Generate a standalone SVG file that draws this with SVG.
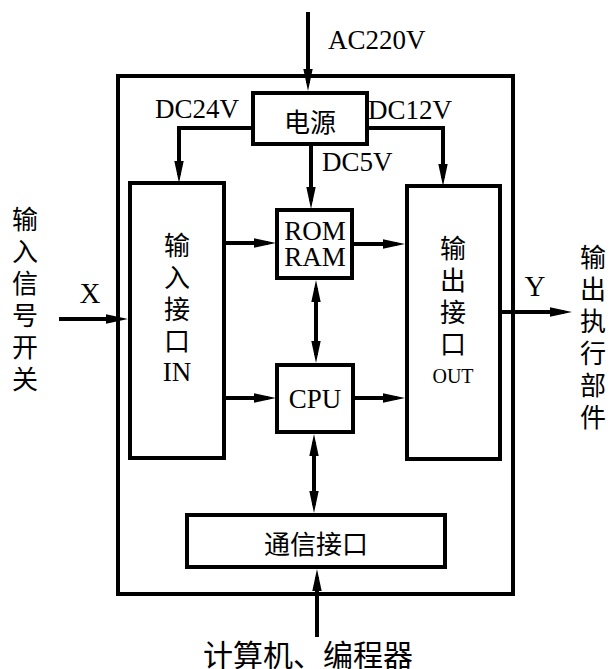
<svg xmlns="http://www.w3.org/2000/svg" width="610" height="669" viewBox="0 0 610 669">
<style>
.box{fill:#fff;stroke:#000;stroke-width:4}
.frame{fill:none;stroke:#000;stroke-width:4}
.wire{fill:none;stroke:#000;stroke-width:4;stroke-linejoin:miter}
.lat{font-family:'Liberation Serif','DejaVu Serif','Noto Serif',serif;font-size:27px;fill:#000}
.cjk{font-family:'Noto Sans CJK SC','Noto Sans',sans-serif;font-size:26px;fill:#000;text-anchor:middle;dominant-baseline:central}
.vcol{font-family:'Noto Sans CJK SC','Noto Sans',sans-serif;font-size:26px;fill:#000;writing-mode:vertical-rl;text-orientation:upright;letter-spacing:6px}
.mid{text-anchor:middle}
</style>
<defs>
<marker id="ah" markerUnits="userSpaceOnUse" markerWidth="24" markerHeight="12" refX="14" refY="5" orient="auto-start-reverse" viewBox="0 0 24 10">
<path d="M0,0.3 L22,5 L0,9.7 Z" fill="#000"/>
</marker>
</defs>
<g id="frame"><rect class="frame" x="118" y="76" width="395" height="518"/></g>
<g id="power"><rect class="box" x="253" y="93" width="114" height="51"/><text class="cjk" x="310" y="120">电源</text></g>
<g id="input"><rect class="box" x="130" y="183" width="94" height="275"/>
<text class="vcol" x="177" y="232">输入接口</text>
<text class="lat mid" x="177" y="381">IN</text></g>
<g id="rom"><rect class="box" x="277" y="210" width="75" height="68"/><text class="lat mid"><tspan x="315" y="240">ROM</tspan><tspan x="315" y="266">RAM</tspan></text></g>
<g id="cpu"><rect class="box" x="277" y="365" width="76" height="67"/><text class="lat mid" x="315" y="408">CPU</text></g>
<g id="output"><rect class="box" x="407" y="186" width="93" height="273"/>
<text class="vcol" x="453" y="235">输出接口</text>
<text class="lat mid" x="453" y="383" style="font-size:20px">OUT</text></g>
<g id="comm"><rect class="box" x="187" y="515" width="258" height="52"/><text class="cjk" x="316" y="542">通信接口</text></g>
<g id="input-label"><text class="vcol" x="25" y="206">输入信号开关</text></g>
<g id="output-label"><text class="vcol" x="593" y="244">输出执行部件</text></g>
<g id="pc-label"><text class="cjk" x="308" y="653" style="font-size:30px">计算机、编程器</text></g>
<g id="connectors">
<path class="wire" d="M308,12 V83" marker-end="url(#ah)"/>
<path class="wire" d="M253,128 H179 V175" marker-end="url(#ah)"/>
<path class="wire" d="M367,128 H443 V178" marker-end="url(#ah)"/>
<path class="wire" d="M311,144 V201" marker-end="url(#ah)"/>
<path class="wire" d="M59,319 H120" marker-end="url(#ah)"/>
<path class="wire" d="M224,243 H268" marker-end="url(#ah)"/>
<path class="wire" d="M224,398 H268" marker-end="url(#ah)"/>
<path class="wire" d="M352,244 H397" marker-end="url(#ah)"/>
<path class="wire" d="M353,398 H397" marker-end="url(#ah)"/>
<path class="wire" d="M316,288 V355" marker-start="url(#ah)" marker-end="url(#ah)"/>
<path class="wire" d="M314,442 V505" marker-start="url(#ah)" marker-end="url(#ah)"/>
<path class="wire" d="M502,312 H564" marker-end="url(#ah)"/>
<path class="wire" d="M317,637 V577" marker-end="url(#ah)"/>
<text class="lat" x="328" y="49">AC220V</text>
<text class="lat" x="155" y="118">DC24V</text>
<text class="lat" x="368" y="119">DC12V</text>
<text class="lat" x="322" y="171">DC5V</text>
<text class="lat mid" x="90" y="303" style="font-size:29px">X</text>
<text class="lat mid" x="535" y="296" style="font-size:29px">Y</text>
</g>
</svg>
